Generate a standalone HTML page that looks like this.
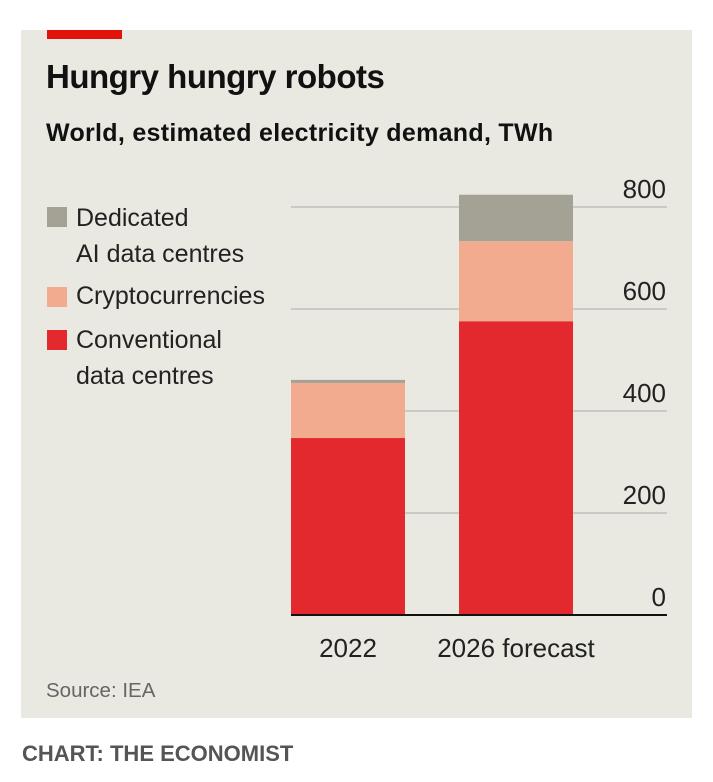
<!DOCTYPE html>
<html><head><meta charset="utf-8"><style>
body{margin:0;background:#fff;width:713px;height:782px;position:relative;font-family:"Liberation Sans",sans-serif;overflow:hidden}
.panel{position:absolute;left:21px;top:30px;width:671px;height:688px;background:#e9e8e1}
.tab{position:absolute;left:47px;top:30px;width:75px;height:9px;background:#e3120b}
.t{position:absolute;white-space:nowrap;color:#111}
.leg{position:absolute;width:20px;height:20px}
</style></head><body>
<div class="panel"></div>
<div class="tab"></div>
<div class="t" style="left:46px;top:58px;font-size:33px;font-weight:bold;letter-spacing:-0.5px">Hungry hungry robots</div>
<div class="t" style="left:46px;top:119px;font-size:25px;font-weight:bold;letter-spacing:0.3px">World, estimated electricity demand, TWh</div>
<div class="leg" style="left:47px;top:207px;background:#a3a294"></div>
<div class="t" style="left:76px;top:200px;font-size:25px;line-height:36px;color:#222">Dedicated<br>AI data centres</div>
<div class="leg" style="left:47px;top:287px;background:#f3ab90"></div>
<div class="t" style="left:76px;top:281px;font-size:25px;line-height:30px;color:#222">Cryptocurrencies</div>
<div class="leg" style="left:47px;top:330px;background:#e3292e"></div>
<div class="t" style="left:76px;top:322px;font-size:25px;line-height:36px;color:#222">Conventional<br>data centres</div>
<svg id="c" width="713" height="782" style="position:absolute;left:0;top:0"></svg>
<div class="t" style="left:46px;top:679px;font-size:20.5px;color:#666">Source: IEA</div>
<div class="t" style="left:22px;top:741px;font-size:22px;font-weight:bold;color:#555">CHART: THE ECONOMIST</div>
<script>
const categories=["2022","2026 forecast"];
const conventional=[347,576];
const crypto=[108,157];
const ai=[6,91];
const ticks=[0,200,400,600,800];
const colors=["#e3292e","#f3ab90","#a3a294"];
const ns="http://www.w3.org/2000/svg";
const svg=document.getElementById('c');
const y=v=>615-v*0.5100;
const bx=i=>291+i*168;
const bw=114;
function mk(t,a){const e=document.createElementNS(ns,t);for(const k in a)e.setAttribute(k,a[k]);svg.appendChild(e);return e;}
ticks.forEach(t=>{
  if(t>0){const l=mk('line',{x1:291,x2:667,y1:y(t),y2:y(t),stroke:'#b9b9b3','stroke-width':1.3});
  
  }
  const tx=mk('text',{x:666,y:y(t)-9,'text-anchor':'end','font-size':26,fill:'#222','font-family':'Liberation Sans'});
  tx.textContent=t;
  
  
});
const series=[conventional,crypto,ai];
const names=['conventional','crypto','ai'];
categories.forEach((c,i)=>{
  let base=0;
  series.forEach((s,j)=>{
    const r=mk('rect',{x:bx(i),width:bw,y:y(base+s[i]),height:y(base)-y(base+s[i]),fill:colors[j]});
    
    
    base+=s[i];
  });
  const tx=mk('text',{x:bx(i)+bw/2,y:657,'text-anchor':'middle','font-size':26,fill:'#222','font-family':'Liberation Sans'});
  tx.textContent=c;
  
  
});
const ax=mk('line',{x1:291,x2:667,y1:615,y2:615,stroke:'#111','stroke-width':2});


</script>
</body></html>
